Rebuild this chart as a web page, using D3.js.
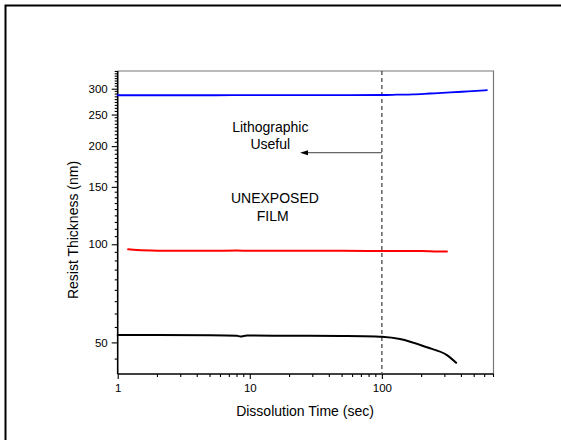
<!DOCTYPE html>
<html>
<head>
<meta charset="utf-8">
<script src="https://cdn.jsdelivr.net/npm/d3@7"></script>
<style>
html,body{margin:0;padding:0;background:#fff;}
svg{display:block;font-family:"Liberation Sans",Arial,sans-serif;}
</style>
</head>
<body>
<svg id="chart" width="561" height="440"></svg>
<script>
// Data (time in sec, thickness in nm)
const blueT = [1, 2, 5, 10, 20, 50, 100, 130, 172, 230, 330, 450, 624];
const blueV = [286.5, 286.5, 286.5, 286.6, 286.7, 286.8, 287, 287.6, 288.3, 290, 292.2, 294.5, 297];
const redT = [1.2, 1.4, 2, 3, 5, 8, 10, 20, 50, 100, 200, 250, 311];
const redV = [96.5, 96.0, 95.6, 95.5, 95.5, 95.7, 95.5, 95.5, 95.5, 95.4, 95.3, 95.1, 95.0];
const blackT = [1, 2, 5, 8, 8.5, 9.5, 20, 50, 90, 100, 137, 219, 311, 365];
const blackV = [52.7, 52.7, 52.6, 52.4, 52.1, 52.5, 52.4, 52.3, 52.1, 52.0, 51.2, 48.3, 45.7, 43.3];
const xMajorTicks = [1, 10, 100];
const yMajorTicks = [50, 100, 150, 200, 250, 300];
const xDomain = [1, 700];
const yDomain = [40, 340];
const cutoffTime = 100;
const arrowEndTime = 24;
const arrowLevel = 191;
const annotations = [
  {t: 14.3, v: 221, text: "Lithographic"},
  {t: 14.3, v: 196, text: "Useful"},
  {t: 15.5, v: 134, text: "UNEXPOSED"},
  {t: 14.9, v: 118, text: "FILM"}
];

const svg = d3.select("#chart");
// outer frame
svg.append("path").attr("d","M5.5,440 V5.5 H561").attr("fill","none").attr("stroke","#000").attr("stroke-width",2);

const L = 117.7, R = 493.5, T = 71, B = 374;
const x = d3.scaleLog().domain(xDomain).range([L, R]);
const y = d3.scaleLog().domain(yDomain).range([B, T]);

// top/right frame (grey)
svg.append("path").attr("d",`M${L},${T} H${R} V${B}`).attr("fill","none").attr("stroke","#777").attr("stroke-width",1.2);

// minor ticks
const xMinor = [];
for (let d = 1; d <= 100; d *= 10) for (let k = 2; k <= 9; k++) { const v = k*d; if (v <= xDomain[1]) xMinor.push(v); }
const yMinor = [];
for (let v = 0; v <= 350; v += 50/9) { const r = Math.round(v*1000)/1000; if (r >= yDomain[0] && r <= yDomain[1] && !yMajorTicks.some(m => Math.abs(m-r) < 0.01)) yMinor.push(r); }

const xAxis = d3.axisBottom(x).tickValues(xMajorTicks).tickFormat(d3.format("d")).tickSize(5).tickPadding(5);
const gx = svg.append("g").attr("transform",`translate(0,${B})`).call(xAxis);
gx.append("g").selectAll("line").data(xMinor).join("line")
  .attr("x1", d => x(d)).attr("x2", d => x(d)).attr("y1", 0).attr("y2", 3).attr("stroke", "#000");

const yAxis = d3.axisLeft(y).tickValues(yMajorTicks).tickFormat(d3.format("d")).tickSize(6).tickPadding(4);
const gy = svg.append("g").attr("transform",`translate(${L},0)`).call(yAxis);
gy.append("g").selectAll("line").data(yMinor).join("line")
  .attr("y1", d => y(d)).attr("y2", d => y(d)).attr("x1", 0).attr("x2", -3).attr("stroke", "#000");

[gx, gy].forEach(g => {
  g.select(".domain").attr("stroke","#000").attr("stroke-width",1.6);
  g.selectAll("line").attr("stroke-width",1.1);
  g.selectAll("text").attr("font-size", 11.5).attr("fill","#000").attr("font-family","Liberation Sans, Arial, sans-serif");
});
gx.select(".domain").attr("d", `M${L},0H${R}`);
gy.select(".domain").attr("d", `M0,${B}V${T}`);

// axis titles
svg.append("text").attr("x", 305).attr("y", 416).attr("text-anchor","middle")
  .attr("font-size", 14).text("Dissolution Time (sec)");
svg.append("text").attr("transform","translate(78,230) rotate(-90)").attr("text-anchor","middle")
  .attr("font-size", 14).text("Resist Thickness (nm)");

// dashed cutoff line
svg.append("line").attr("x1", x(cutoffTime)).attr("x2", x(cutoffTime)).attr("y1", T).attr("y2", B)
  .attr("stroke","#555").attr("stroke-width",1.4).attr("stroke-dasharray","4,3");

// series
const line = d3.line().x(d => x(d[0])).y(d => y(d[1])).curve(d3.curveMonotoneX);
const series = [
  {t: blueT, v: blueV, c: "#0000ff", w: 1.8},
  {t: redT, v: redV, c: "#ff0000", w: 2},
  {t: blackT, v: blackV, c: "#000000", w: 2}
];
series.forEach(s => {
  svg.append("path").datum(s.t.map((t,i) => [t, s.v[i]])).attr("d", line)
    .attr("fill","none").attr("stroke", s.c).attr("stroke-width", s.w).attr("stroke-linecap","round");
});

// arrow
const ay = y(arrowLevel), ax0 = x(cutoffTime), ax1 = x(arrowEndTime);
svg.append("line").attr("x1", ax0).attr("x2", ax1 + 6).attr("y1", ay).attr("y2", ay)
  .attr("stroke","#666").attr("stroke-width",1.4);
svg.append("path").attr("d", `M${ax1},${ay} L${ax1+8},${ay-2.5} L${ax1+8},${ay+2.5} Z`).attr("fill","#000");

// annotations
annotations.forEach(a => {
  svg.append("text").attr("x", x(a.t)).attr("y", y(a.v)).attr("text-anchor","middle")
    .attr("font-size", 14).attr("fill","#000").text(a.text);
});
</script>
</body>
</html>
